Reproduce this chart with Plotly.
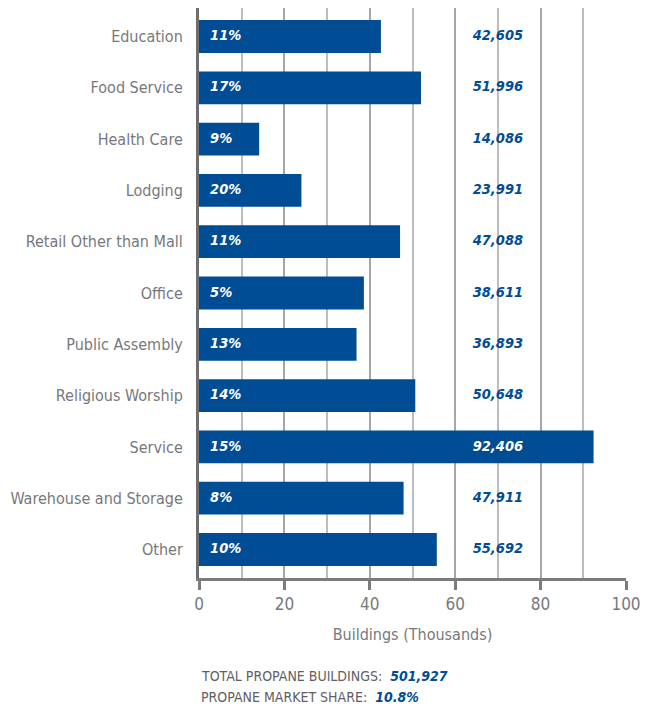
import plotly.graph_objects as go

categories = ["Education", "Food Service", "Health Care", "Lodging", "Retail Other than Mall",
              "Office", "Public Assembly", "Religious Worship", "Service",
              "Warehouse and Storage", "Other"]
buildings = [42605, 51996, 14086, 23991, 47088, 38611, 36893, 50648, 92406, 47911, 55692]
shares = ["11%", "17%", "9%", "20%", "11%", "5%", "13%", "14%", "15%", "8%", "10%"]
total_buildings = "501,927"
market_share = "10.8%"

BLUE = "#004C95"
GREY = "#77787B"
FONT = "DejaVu Sans Condensed, DejaVu Sans"

LABEL_X = 70
SHARE_X = 2.6

thousands = [b / 1000 for b in buildings]
value_labels = [f"{b:,}" for b in buildings]
value_colors = ["white" if t > LABEL_X + 5 else BLUE for t in thousands]

fig = go.Figure()
fig.add_trace(go.Bar(
    y=categories, x=thousands, orientation="h",
    marker=dict(color=BLUE, line=dict(width=0)),
    hoverinfo="skip",
))
fig.add_trace(go.Scatter(
    y=categories, x=[SHARE_X] * len(categories), mode="text",
    text=[f"<b><i>{s}</i></b>" for s in shares],
    textfont=dict(color="white", size=14.5, family=FONT),
    textposition="middle right", hoverinfo="skip", showlegend=False,
))
fig.add_trace(go.Scatter(
    y=categories, x=[LABEL_X] * len(categories), mode="text",
    text=[f"<b><i>{v}</i></b>" for v in value_labels],
    textfont=dict(color=value_colors, size=14.5, family=FONT),
    textposition="middle center", hoverinfo="skip", showlegend=False,
))

fig.update_layout(
    width=649, height=708,
    margin=dict(l=199, r=23, t=8, b=130),
    paper_bgcolor="white", plot_bgcolor="white",
    showlegend=False, bargap=0.36,
    font=dict(family=FONT, color=GREY, size=16),
    xaxis=dict(
        range=[0, 100], dtick=20, tick0=0,
        showgrid=True, gridcolor="#A6A6A8", gridwidth=2,
        minor=dict(dtick=10, showgrid=True, gridcolor="#BDBDBF", gridwidth=1.5,
                   ticks=""),
        ticks="outside", ticklen=9, tickwidth=3, tickcolor="#7B7B7E",
        showline=True, linecolor="#7B7B7E", linewidth=3,
        tickfont=dict(size=17, color=GREY, family=FONT),
        title=dict(text="Buildings (Thousands)", font=dict(size=16, color=GREY, family=FONT),
                   standoff=16),
        zeroline=False, fixedrange=True,
    ),
    yaxis=dict(
        categoryorder="array", categoryarray=categories, autorange="reversed",
        showline=True, linecolor="#6E6E71", linewidth=3,
        ticks="", ticklabelstandoff=10,
        tickfont=dict(size=16, color=GREY, family=FONT),
        showgrid=False, zeroline=False, fixedrange=True,
    ),
    annotations=[
        dict(xref="paper", yref="paper", x=0, y=-0.1719, xanchor="left", yanchor="middle",
             showarrow=False,
             text=f"TOTAL PROPANE BUILDINGS:  <b><i><span style='color:{BLUE}'>{total_buildings}</span></i></b>",
             font=dict(size=14, color="#5F6062", family=FONT)),
        dict(xref="paper", yref="paper", x=0, y=-0.2088, xanchor="left", yanchor="middle",
             showarrow=False,
             text=f"PROPANE MARKET SHARE:  <b><i><span style='color:{BLUE}'>{market_share}</span></i></b>",
             font=dict(size=14, color="#5F6062", family=FONT)),
    ],
)

fig.write_html("out.html", config={"displayModeBar": False},
               post_script="document.body.style.margin='0';")
